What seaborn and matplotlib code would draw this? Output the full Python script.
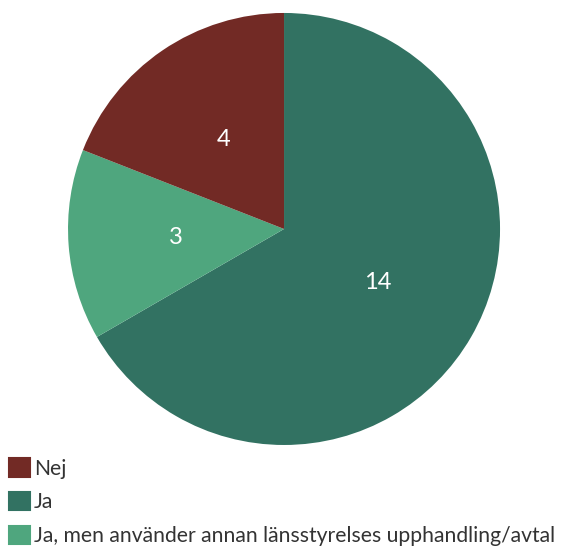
import matplotlib.pyplot as plt
import seaborn as sns
from matplotlib.patches import Patch

# Data
categories = ["Ja", "Ja, men använder annan länsstyrelses upphandling/avtal", "Nej"]
values = [14, 3, 4]
colors = ["#327262", "#4fa67e", "#722a25"]
legend_order = ["Nej", "Ja", "Ja, men använder annan länsstyrelses upphandling/avtal"]

sns.set_theme(style="white")
plt.rcParams["font.family"] = ["Lato", "DejaVu Sans"]

fig = plt.figure(figsize=(5.64, 5.47), dpi=100)
ax = fig.add_axes([0.1206, 0.1865, 0.766, 0.7898])

wedges, texts = ax.pie(values, colors=colors, startangle=90, counterclock=False,
                       labels=[str(v) for v in values], labeldistance=0.5,
                       textprops={"color": "white", "fontsize": 17},
                       wedgeprops={"linewidth": 0})
for t in texts:
    t.set_ha("center")
    t.set_va("center")
ax.set_xlim(-1, 1)
ax.set_ylim(-1, 1)
ax.set_aspect("equal")

# legend with slightly rounded squares
color_map = dict(zip(categories, colors))
handles = [Patch(facecolor=color_map[c], edgecolor=color_map[c], linewidth=1.5,
                 joinstyle="round") for c in legend_order]
fig.legend(handles, legend_order, loc="upper left", bbox_to_anchor=(0.016, 0.162),
           frameon=False, fontsize=15.2, handlelength=0.97, handleheight=0.97,
           handletextpad=0.2, labelspacing=0.62, borderaxespad=0, borderpad=0,
           labelcolor="#333333")

fig.savefig("out.png", dpi=100)
